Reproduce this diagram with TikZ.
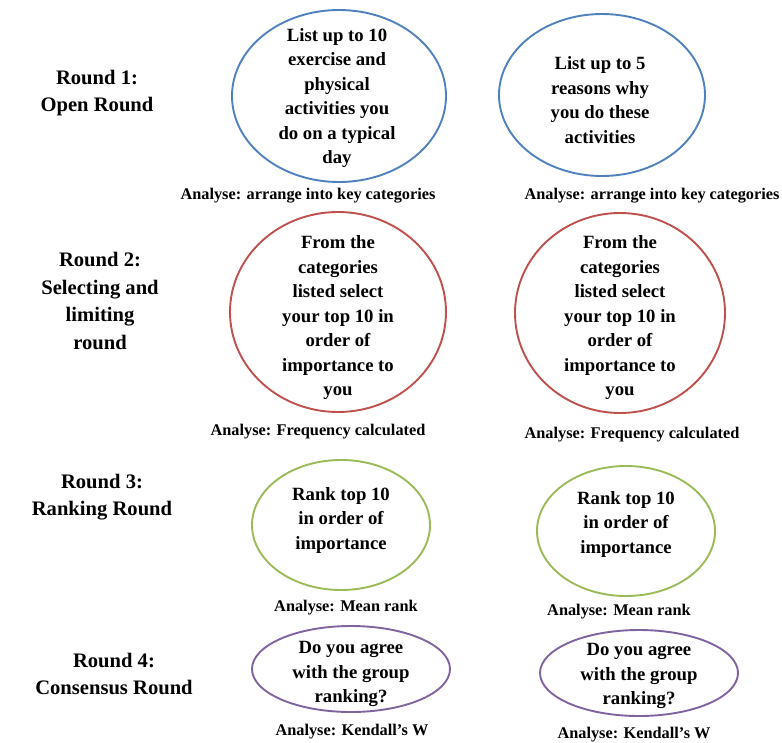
\documentclass[tikz,border=0pt]{standalone}
\usepackage{fontspec}
\setmainfont{Liberation Serif}
\usepackage{tikz}
\usetikzlibrary{shapes.geometric}

\definecolor{openblue}{RGB}{79,129,189}
\definecolor{selectred}{RGB}{192,80,77}
\definecolor{rankgreen}{RGB}{155,187,89}
\definecolor{agreepurple}{RGB}{128,100,162}

\begin{document}
\begin{tikzpicture}[
    x=1pt, y=-1pt,
    oval/.style={draw, ellipse, line width=1.9pt, inner sep=0pt},
    ovaltext/.style={align=center, inner sep=0pt, font=\bfseries\fontsize{18.7}{24.5}\selectfont},
    roundname/.style={align=center, font=\bfseries\fontsize{20.6}{27.5}\selectfont},
    analyse/.style={inner sep=0pt, font=\bfseries\fontsize{16.3}{18}\selectfont}
]
\useasboundingbox (0,0) rectangle (782,742);

% round names
\node[roundname] (r1) at (97,93) {Round 1:\\Open Round};
\node[roundname] (r2) at (100,301) {Round 2:\\Selecting and\\limiting\\round};
\node[roundname] (r3) at (102,497) {Round 3:\\Ranking Round};
\node[roundname] (r4) at (114,674) {Round 4:\\Consensus Round};

% round 1
\node[oval, openblue, minimum width=214, minimum height=172] (list1) at (339,96) {};
\node[ovaltext] (list1text) at (337,98) {List up to 10\\exercise and\\physical\\activities you\\do on a typical\\day};
\node[oval, openblue, minimum width=206, minimum height=162] (list2) at (602,95) {};
\node[ovaltext] (list2text) at (600,100) {List up to 5\\reasons why\\you do these\\activities};
\node[analyse] (an1) at (308,196) {Analyse: arrange into key categories};
\node[analyse] (an2) at (652,196) {Analyse: arrange into key categories};

% round 2
\node[oval, selectred, minimum width=216, minimum height=200] (sel1) at (338,312) {};
\node[ovaltext] (sel1text) at (338,318) {From the\\categories\\listed select\\your top 10 in\\order of\\importance to\\you};
\node[oval, selectred, minimum width=210, minimum height=200] (sel2) at (620,313) {};
\node[ovaltext] (sel2text) at (620,318) {From the\\categories\\listed select\\your top 10 in\\order of\\importance to\\you};
\node[analyse] (an3) at (318,432) {Analyse: Frequency calculated};
\node[analyse] (an4) at (632,435) {Analyse: Frequency calculated};

% round 3
\node[oval, rankgreen, minimum width=178, minimum height=130] (rank1) at (341,525) {};
\node[ovaltext] (rank1text) at (341,520) {Rank top 10\\in order of\\importance};
\node[oval, rankgreen, minimum width=178, minimum height=130] (rank2) at (626,531) {};
\node[ovaltext] (rank2text) at (626,524) {Rank top 10\\in order of\\importance};
\node[analyse] (an5) at (346,608) {Analyse: Mean rank};
\node[analyse] (an6) at (619,612) {Analyse: Mean rank};

% round 4
\node[oval, agreepurple, minimum width=198, minimum height=86] (agree1) at (351,669) {};
\node[ovaltext] (agree1text) at (351,674) {Do you agree\\with the group\\ranking?};
\node[oval, agreepurple, minimum width=198, minimum height=86] (agree2) at (639,673) {};
\node[ovaltext] (agree2text) at (639,676) {Do you agree\\with the group\\ranking?};
\node[analyse] (an7) at (352,732) {Analyse: Kendall's W};
\node[analyse] (an8) at (634,735) {Analyse: Kendall's W};
\end{tikzpicture}
\end{document}
